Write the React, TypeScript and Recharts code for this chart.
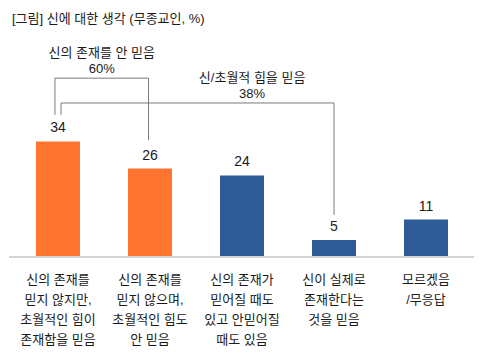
import React from 'react';
import { BarChart, Bar, XAxis, YAxis, Cell, LabelList, ReferenceLine } from 'recharts';

const categories = [
  '신의 존재를\n믿지 않지만,\n초월적인 힘이\n존재함을 믿음',
  '신의 존재를\n믿지 않으며,\n초월적인 힘도\n안 믿음',
  '신의 존재가\n믿어질 때도\n있고 안믿어질\n때도 있음',
  '신이 실제로\n존재한다는\n것을 믿음',
  '모르겠음\n/무응답',
];
const values = [34, 26, 24, 5, 11];
const groups = ['orange', 'orange', 'blue', 'blue', 'blue'];
const groupColors: Record<string, string> = { orange: '#FF752F', blue: '#2F5B97' };

const title = '[그림] 신에 대한 생각 (무종교인, %)';

// bracket annotations (x in category-index units, centre of bar i = i; y in value units)
const bracket60 = { name: '신의 존재를 안 믿음', total: '60%', left: -0.033, right: 0.984, top: 52.6, leftBottom: 41.8, rightBottom: 34.4, labelFrac: 0.5 };
const bracket38 = { name: '신/초월적 힘을 믿음', total: '38%', left: 0.033, right: 3.0, top: 45.3, leftBottom: 41.8, rightBottom: 12.4, labelFrac: 0.7 };
const brackets = [bracket60, bracket38];

const data = categories.map((c, i) => ({ name: c, idx: i, value: values[i], group: groups[i] }));

const FONT = '"Liberation Sans", Arial, "Noto Sans CJK KR", sans-serif';

const Tick = (props: any) => {
  const { x, y, payload } = props;
  const lines = String(payload.value).split('\n');
  return (
    <text x={x} y={y} textAnchor="middle" fontSize={13} fill="#1a1a1a" fontFamily={FONT}>
      {lines.map((l, i) => (
        <tspan key={i} x={x} dy={i === 0 ? 18.5 : 20}>{l}</tspan>
      ))}
    </text>
  );
};

const makeLabel = (b: typeof bracket60) => (props: any) => {
  const vb = props.viewBox || {};
  const cx = vb.x + vb.width * b.labelFrac;
  return (
    <text x={cx} y={vb.y} textAnchor="middle" fontSize={13} fill="#1a1a1a" fontFamily={FONT}>
      <tspan x={cx} dy={-21}>{b.name}</tspan>
      <tspan x={cx} dy={16}>{b.total}</tspan>
    </text>
  );
};

export default function App() {
  return (
    <div style={{ position: 'absolute', left: 0, top: 0, width: 484, height: 353, background: '#fff' }}>
      <div style={{ position: 'absolute', left: 12, top: 8, fontSize: 13, color: '#1a1a1a', fontFamily: FONT, whiteSpace: 'nowrap' }}>{title}</div>
      <BarChart width={484} height={353} data={data} margin={{ top: 121, right: 10, bottom: 16, left: 9 }}>
        <XAxis dataKey="name" xAxisId={0} height={80} interval={0} tickLine={false} axisLine={{ stroke: '#d4d4d4', strokeWidth: 2 }} tick={<Tick />} padding={{ left: 3, right: 2 }} />
        <XAxis xAxisId="n" dataKey="idx" type="number" domain={[-0.5, 4.5]} allowDataOverflow hide padding={{ left: 3, right: 2 }} />
        <YAxis hide domain={[0, 40]} allowDataOverflow />
        <Bar dataKey="value" barSize={44} isAnimationActive={false} xAxisId={0}>
          {data.map((d, i) => (
            <Cell key={i} fill={groupColors[d.group]} />
          ))}
          <LabelList dataKey="value" position="top" offset={9} fontSize={14} fill="#1a1a1a" fontFamily={FONT} />
        </Bar>
        {brackets.map((b, i) => (
          <ReferenceLine key={'h' + i} xAxisId="n" ifOverflow="visible" stroke="#7a7a7a" strokeWidth={1}
            segment={[{ x: b.left, y: b.top }, { x: b.right, y: b.top }]} label={makeLabel(b)} />
        ))}
        {brackets.map((b, i) => (
          <ReferenceLine key={'l' + i} xAxisId="n" ifOverflow="visible" stroke="#7a7a7a" strokeWidth={1}
            segment={[{ x: b.left, y: b.top }, { x: b.left, y: b.leftBottom }]} />
        ))}
        {brackets.map((b, i) => (
          <ReferenceLine key={'r' + i} xAxisId="n" ifOverflow="visible" stroke="#7a7a7a" strokeWidth={1}
            segment={[{ x: b.right, y: b.top }, { x: b.right, y: b.rightBottom }]} />
        ))}
      </BarChart>
    </div>
  );
}
